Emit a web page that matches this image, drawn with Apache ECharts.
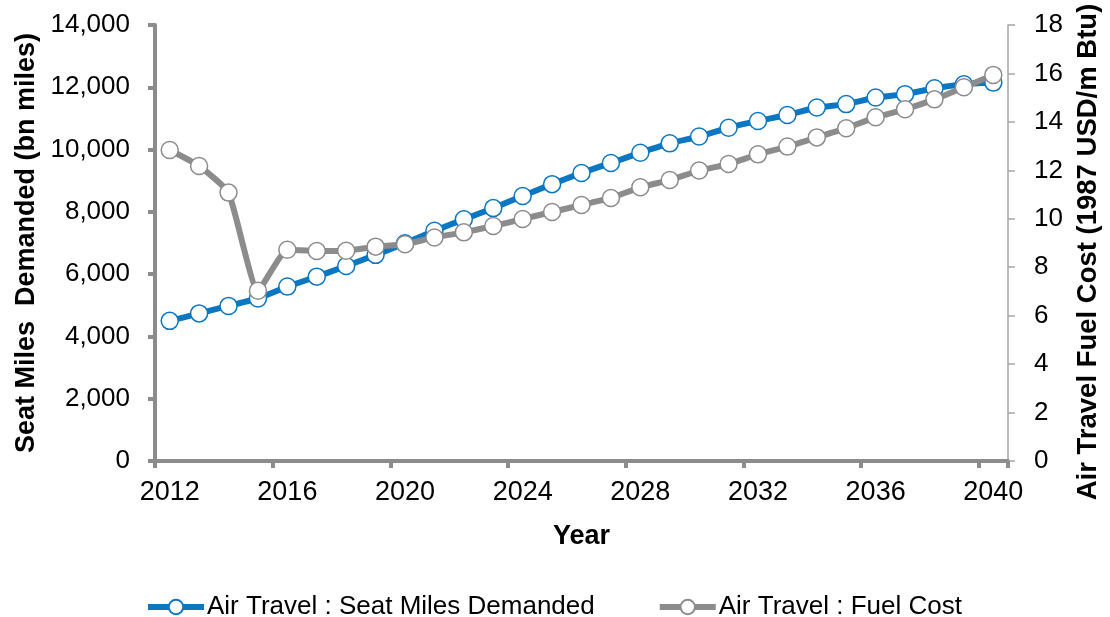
<!DOCTYPE html>
<html>
<head>
<meta charset="utf-8">
<script src="https://cdn.jsdelivr.net/npm/echarts@6/dist/echarts.min.js"></script>
<style>html,body{margin:0;padding:0;background:#fff;overflow:hidden;width:1110px;height:617px;}#c{position:absolute;left:0;top:0;width:1110px;height:617px;}</style>
</head>
<body>
<div id="c"></div>
<script>
const years = ['2012','2013','2014','2015','2016','2017','2018','2019','2020','2021','2022','2023','2024','2025','2026','2027','2028','2029','2030','2031','2032','2033','2034','2035','2036','2037','2038','2039','2040'];
const seatMiles = [4500, 4740, 4980, 5220, 5600, 5920, 6260, 6620, 6990, 7390, 7760, 8120, 8510, 8890, 9250, 9570, 9900, 10200, 10420, 10700, 10920, 11110, 11350, 11460, 11670, 11780, 11970, 12100, 12150];
const fuelCost = [12.84, 12.18, 11.08, 7.03, 8.72, 8.67, 8.68, 8.85, 8.95, 9.23, 9.44, 9.70, 9.99, 10.28, 10.57, 10.86, 11.30, 11.60, 11.99, 12.26, 12.66, 12.98, 13.36, 13.74, 14.19, 14.52, 14.93, 15.43, 15.94];
const seriesNames = ['Air Travel : Seat Miles Demanded', 'Air Travel : Fuel Cost'];
const leftTitle = 'Seat Miles  Demanded (bn miles)';
const rightTitle = 'Air Travel Fuel Cost (1987 USD/m Btu)';
const xTitle = 'Year';

const FONT = "'Liberation Sans', Arial, sans-serif";
const BLUE = '#0B77C3';
const GREY = '#8C8C8C';
const chart = echarts.init(document.getElementById('c'), null, {renderer: 'canvas', width: 1110, height: 617});
chart.setOption({
  animation: false,
  backgroundColor: '#fff',
  textStyle: {fontFamily: FONT},
  grid: {left: 155, right: 92, top: 25, bottom: 156, containLabel: false},
  legend: {
    left: 145, top: 594, padding: 0,
    itemWidth: 56, itemHeight: 18, itemGap: 62,
    lineStyle: {width: 6},
    textStyle: {fontFamily: FONT, fontSize: 26, color: '#000', padding: [0, 0, 0, -2]},
    data: seriesNames
  },
  xAxis: {
    type: 'category', data: years, boundaryGap: true,
    name: xTitle, nameLocation: 'middle', nameGap: 62,
    nameTextStyle: {fontFamily: FONT, fontSize: 27, fontWeight: 'bold', color: '#000'},
    axisLine: {lineStyle: {color: GREY, width: 4}},
    axisTick: {show: true, interval: 3, length: 7, inside: false, lineStyle: {color: GREY, width: 4}},
    axisLabel: {interval: 3, fontSize: 27, color: '#000', margin: 18, fontFamily: FONT},
    splitLine: {show: false}
  },
  yAxis: [
    {
      type: 'value', min: 0, max: 14000, interval: 2000, position: 'left',
      name: leftTitle, nameLocation: 'middle', nameGap: 109, nameRotate: 90,
      nameTextStyle: {fontFamily: FONT, fontSize: 27, fontWeight: 'bold', color: '#000'},
      axisLine: {show: true, lineStyle: {color: GREY, width: 4}},
      axisTick: {show: true, length: 7, lineStyle: {color: GREY, width: 4}},
      axisLabel: {fontSize: 26, color: '#000', margin: 25, fontFamily: FONT,
        formatter: v => v.toLocaleString('en-US')},
      splitLine: {show: false}
    },
    {
      type: 'value', min: 0, max: 18, interval: 2, position: 'right',
      name: rightTitle, nameLocation: 'middle', nameGap: 66, nameRotate: 90,
      nameTextStyle: {fontFamily: FONT, fontSize: 27.5, fontWeight: 'bold', color: '#000', padding: [0, 18, 0, 0]},
      axisLine: {show: true, lineStyle: {color: '#A6A6A6', width: 1.5}},
      axisTick: {show: true, length: 7, lineStyle: {color: '#A6A6A6', width: 1.5}},
      axisLabel: {fontSize: 26, color: '#000', margin: 26, fontFamily: FONT},
      splitLine: {show: false}
    }
  ],
  series: [
    {
      name: seriesNames[0], type: 'line', yAxisIndex: 0, data: seatMiles,
      smooth: 0.15,
      symbol: 'circle', symbolSize: 17, showAllSymbol: true,
      lineStyle: {color: BLUE, width: 6},
      itemStyle: {color: '#fff', borderColor: BLUE, borderWidth: 1.5},
      z: 2
    },
    {
      name: seriesNames[1], type: 'line', yAxisIndex: 1, data: fuelCost,
      smooth: 0.15,
      symbol: 'circle', symbolSize: 17, showAllSymbol: true,
      lineStyle: {color: GREY, width: 6},
      itemStyle: {color: '#fff', borderColor: GREY, borderWidth: 1.5},
      z: 3
    }
  ]
});
</script>
</body>
</html>
